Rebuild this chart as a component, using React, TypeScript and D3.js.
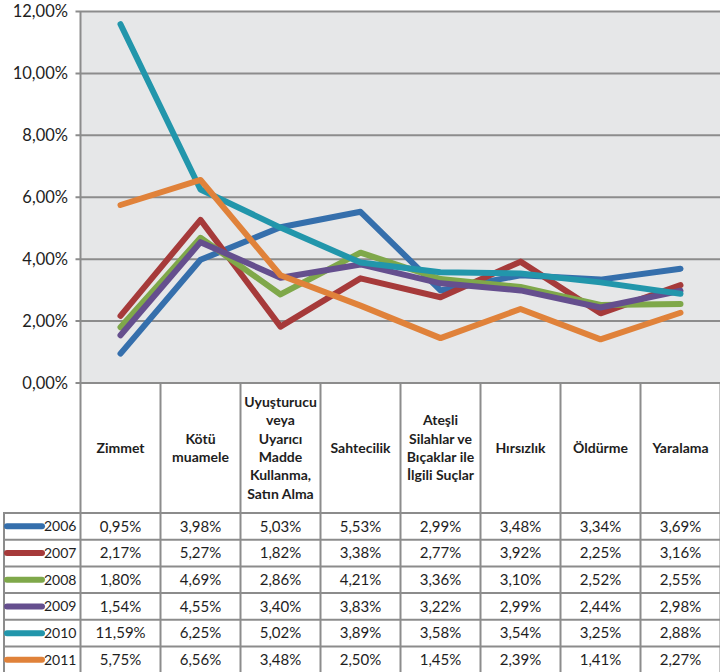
import React from "react";
import * as d3 from "d3";

const categories: string[][] = [
  ["Zimmet"],
  ["Kötü", "muamele"],
  ["Uyuşturucu", "veya", "Uyarıcı", "Madde", "Kullanma,", "Satın Alma"],
  ["Sahtecilik"],
  ["Ateşli", "Silahlar ve", "Bıçaklar ile", "İlgili Suçlar"],
  ["Hırsızlık"],
  ["Öldürme"],
  ["Yaralama"],
];
const years = ["2006", "2007", "2008", "2009", "2010", "2011"];
const v2006 = [0.95, 3.98, 5.03, 5.53, 2.99, 3.48, 3.34, 3.69];
const v2007 = [2.17, 5.27, 1.82, 3.38, 2.77, 3.92, 2.25, 3.16];
const v2008 = [1.8, 4.69, 2.86, 4.21, 3.36, 3.1, 2.52, 2.55];
const v2009 = [1.54, 4.55, 3.4, 3.83, 3.22, 2.99, 2.44, 2.98];
const v2010 = [11.59, 6.25, 5.02, 3.89, 3.58, 3.54, 3.25, 2.88];
const v2011 = [5.75, 6.56, 3.48, 2.5, 1.45, 2.39, 1.41, 2.27];
const seriesValues = [v2006, v2007, v2008, v2009, v2010, v2011];
const colors = ["#356fac", "#a63a3a", "#7fa84a", "#654f8e", "#2296ab", "#e0823a"];
const yTicks = [0, 2, 4, 6, 8, 10, 12];

const fmt = (v: number) => v.toFixed(2).replace(".", ",") + "%";

export default function App() {
  const W = 720, H = 672;
  const left = 80.5, right = 720.5;
  const top = 11.5, bottom = 383;
  const headerBottom = 513;
  const rowH = 26.7;
  const legendLeft = 4;
  const font = "Lato, 'Open Sans', sans-serif";
  const gridColor = "#8c8c8c";
  const textColor = "#1e1e1e";

  const x = d3.scaleBand<number>().domain(d3.range(categories.length)).range([left, right]);
  const y = d3.scaleLinear().domain([0, 12]).range([bottom, top]);
  const line = d3
    .line<number>()
    .x((_, i) => (x(i) as number) + x.bandwidth() / 2)
    .y((d) => y(d));

  const tableBottom = headerBottom + rowH * years.length + 2;

  return (
    <div style={{ position: "absolute", left: 0, top: 0, width: W, height: H, overflow: "hidden", background: "#fff" }}>
      <svg width={W} height={H} style={{ display: "block" }}>
        <rect x={left} y={top} width={right - left} height={bottom - top} fill="#e6e7e8" />
        {yTicks.map((t) => (
          <g key={t}>
            <line x1={left - 5} x2={right} y1={y(t)} y2={y(t)} stroke={gridColor} strokeWidth={2} />
            <text x={68} y={y(t)} dy="0.35em" textAnchor="end" fontFamily={font} fontSize={16.5} fill={textColor}>
              {fmt(t)}
            </text>
          </g>
        ))}
        <rect x={left} y={bottom + 1} width={right - left} height={H - bottom} fill="#fff" />
        {seriesValues.map((vals, si) => (
          <path
            key={si}
            d={line(vals) || ""}
            fill="none"
            stroke={colors[si]}
            strokeWidth={6}
            strokeLinecap="round"
            strokeLinejoin="round"
          />
        ))}
        {d3.range(categories.length + 1).map((i) => {
          const xx = i < categories.length ? (x(i) as number) : right;
          return (
            <line
              key={i}
              x1={xx}
              x2={xx}
              y1={i === 0 ? top : bottom}
              y2={tableBottom}
              stroke={gridColor}
              strokeWidth={2}
            />
          );
        })}
        <line x1={legendLeft} x2={legendLeft} y1={headerBottom} y2={tableBottom} stroke={gridColor} strokeWidth={2} />
        {d3.range(years.length + 1).map((r) => (
          <line
            key={r}
            x1={legendLeft - 1}
            x2={right}
            y1={headerBottom + r * rowH}
            y2={headerBottom + r * rowH}
            stroke={gridColor}
            strokeWidth={2}
          />
        ))}
        {categories.map((lines, i) => {
          const cx = (x(i) as number) + x.bandwidth() / 2;
          const lh = 18.3;
          const cy = (bottom + headerBottom) / 2;
          const start = cy - ((lines.length - 1) * lh) / 2;
          return (
            <text key={i} textAnchor="middle" fontFamily={font} fontWeight="bold" fontSize={14} fill={textColor}>
              {lines.map((l, j) => (
                <tspan key={j} x={cx} y={start + j * lh} dy="0.35em">
                  {l}
                </tspan>
              ))}
            </text>
          );
        })}
        {years.map((yr, r) => {
          const cy = headerBottom + r * rowH + rowH / 2;
          return (
            <g key={yr}>
              <line x1={7} x2={42} y1={cy} y2={cy} stroke={colors[r]} strokeWidth={6} strokeLinecap="round" />
              <text x={44} y={cy} dy="0.35em" fontFamily={font} fontSize={14} fill={textColor}>
                {yr}
              </text>
              {seriesValues[r].map((v, i) => (
                <text
                  key={i}
                  x={(x(i) as number) + x.bandwidth() / 2}
                  y={cy}
                  dy="0.35em"
                  textAnchor="middle"
                  fontFamily={font}
                  fontSize={15}
                  fill={textColor}
                >
                  {fmt(v)}
                </text>
              ))}
            </g>
          );
        })}
      </svg>
    </div>
  );
}
